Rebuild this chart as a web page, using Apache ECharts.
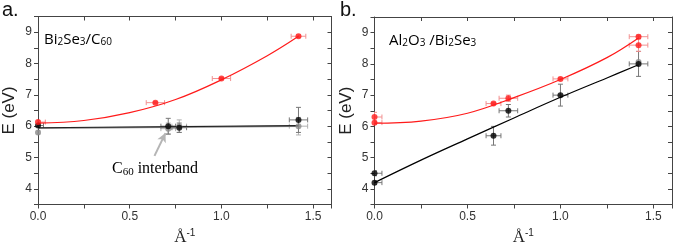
<!DOCTYPE html>
<html><head><meta charset="utf-8">
<script src="https://cdn.jsdelivr.net/npm/echarts@6/dist/echarts.min.js"></script>
<style>html,body{margin:0;padding:0;background:#fff}#c{width:675px;height:251px}</style>
</head><body><div id="c"></div>
<script>
// ---- data: [x, y, xerr, yerr] ----
const aRed   = [[0,6.13,0.04,0.05],[0.64,6.75,0.05,0.03],[1.0,7.52,0.05,0.03],[1.42,8.87,0.04,0.04]];
const aBlack = [[0,6.02,0.03,0.05],[0.71,6.0,0.04,0.25],[0.77,5.95,0.04,0.15],[1.42,6.2,0.05,0.4]];
const aGray  = [[0,5.8,0.0,0.05],[0.71,5.92,0.04,0.18],[0.77,6.0,0.04,0.2],[1.42,6.0,0.05,0.28]];
const aRedFit   = [[0,6.1],[0.25,6.18],[0.5,6.43],[0.75,6.85],[1.0,7.48],[1.25,8.25],[1.42,8.87]];
const aBlackFit = [[0,5.95],[1.42,6.02]];
const aGrayFit  = [[0,5.93],[1.42,6.0]];

const bRed   = [[0,6.3,0.04,0.15],[0,6.12,0.04,0.05],[0.64,6.73,0.04,0.03],[0.72,6.9,0.05,0.1],[1.0,7.52,0.04,0.03],[1.42,8.87,0.05,0.05],[1.42,8.6,0.05,0.2]];
const bBlack = [[0,4.5,0.04,0.08],[0,4.2,0.04,0.05],[0.64,5.7,0.04,0.3],[0.72,6.5,0.05,0.2],[1.0,7.0,0.04,0.35],[1.42,8.0,0.05,0.4]];
const bGray  = [[1.42,8.06,0.0,0.0]];
const bRedFit   = [[0,6.1],[0.25,6.17],[0.5,6.42],[0.75,6.92],[1.0,7.5],[1.25,8.2],[1.42,8.83]];
const bBlackFit = [[0,4.2],[0.25,4.92],[0.5,5.6],[0.75,6.27],[1.0,6.93],[1.25,7.55],[1.42,7.97]];

const xTicks = ['0.0','0.5','1.0','1.5'];
const yTicks = ['4','5','6','7','8','9'];

const RED='#ff1a1a', RED_ERR='#f29090', BLK='#000000', BLK_ERR='#777777', GRY='#8a8a8a';

function xAx(grid, top){
  return {type:'value', gridIndex:grid, min:0, max:1.6, interval:0.25, position: top?'top':'bottom',
    axisLine:{show:true, onZero:false, lineStyle:{color:'#444', width:1}},
    axisTick:{show:true, inside: top, length: top?4:4, lineStyle:{color:'#444'}},
    splitLine:{show:false},
    axisLabel:{show:!top, color:'#333', fontSize:12, fontFamily:'Liberation Sans', margin:6,
      formatter:v=>{const i=xTicks.indexOf(v.toFixed(1)); return (Math.abs(v*2-Math.round(v*2))<1e-6 && i>=0)?xTicks[i]:'';}},
    name: top?'':'{a|Å}{s|-1}', nameLocation:'middle', nameGap:24,
    nameTextStyle:{rich:{a:{fontFamily:'Liberation Serif', fontSize:17, color:'#222'}, s:{fontFamily:'Liberation Sans', fontSize:10, color:'#222', verticalAlign:'top', padding:[0,0,8,0]}}}
  };
}
function yAx(grid, right){
  return {type:'value', gridIndex:grid, min:3.5, max:9.5, interval:0.5, position: right?'right':'left',
    axisLine:{show:true, onZero:false, lineStyle:{color:'#444', width:1}},
    axisTick:{show:true, inside: right, length:4, lineStyle:{color:'#444'}},
    splitLine:{show:false},
    axisLabel:{show:!right, color:'#333', fontSize:12, fontFamily:'Liberation Sans', margin:6,
      formatter:v=>{const s=String(Math.round(v)); return (Math.abs(v-Math.round(v))<1e-6 && yTicks.includes(s))?s:'';}},
    name: right?'':'E (eV)', nameLocation:'middle', nameGap:20, nameRotate:90,
    nameTextStyle:{fontFamily:'Liberation Sans', fontSize:17, color:'#222'}
  };
}

function errSeries(data, xi, yi, color){
  return {type:'custom', xAxisIndex:xi, yAxisIndex:yi, data:data, clip:true, z:2, silent:true,
    renderItem:(params, api)=>{
      const x=api.value(0), y=api.value(1), ex=api.value(2), ey=api.value(3);
      const c=api.coord([x,y]), l=api.coord([x-ex,y]), r=api.coord([x+ex,y]), t=api.coord([x,y+ey]), b=api.coord([x,y-ey]);
      const st={stroke:color, lineWidth:1};
      const ch=[];
      if(ex>0){
        ch.push({type:'line', shape:{x1:l[0],y1:c[1],x2:r[0],y2:c[1]}, style:st});
        ch.push({type:'line', shape:{x1:l[0],y1:c[1]-2.5,x2:l[0],y2:c[1]+2.5}, style:st});
        ch.push({type:'line', shape:{x1:r[0],y1:c[1]-2.5,x2:r[0],y2:c[1]+2.5}, style:st});
      }
      if(ey>0){
        ch.push({type:'line', shape:{x1:c[0],y1:t[1],x2:c[0],y2:b[1]}, style:st});
        ch.push({type:'line', shape:{x1:c[0]-2.5,y1:t[1],x2:c[0]+2.5,y2:t[1]}, style:st});
        ch.push({type:'line', shape:{x1:c[0]-2.5,y1:b[1],x2:c[0]+2.5,y2:b[1]}, style:st});
      }
      return {type:'group', children:ch};
    }};
}
function pts(data, xi, yi, color, size){
  return {type:'scatter', xAxisIndex:xi, yAxisIndex:yi, data:data.map(d=>[d[0],d[1]]), symbolSize:size||6, z:4,
    itemStyle:{color:color}, clip:false, silent:true};
}
function fit(data, xi, yi, color, w){
  return {type:'line', xAxisIndex:xi, yAxisIndex:yi, data:data, smooth:0.4, showSymbol:false, symbol:'none', z:3,
    lineStyle:{color:color, width:w||1.2}, silent:true};
}

const sub = {fontFamily:'Open Sans', fontSize:10, color:'#222', verticalAlign:'bottom', padding:[6,0,0,0]};
const nrm = {fontFamily:'Open Sans', fontSize:15, color:'#222'};

const chart = echarts.init(document.getElementById('c'), null, {renderer:'canvas'});
chart.setOption({
  animation:false,
  grid:[{left:37.5, right:343.5, top:16.5, bottom:40.5},{left:374.5, right:2, top:17, bottom:39}],
  xAxis:[xAx(0,false), xAx(0,true), xAx(1,false), xAx(1,true)],
  yAxis:[yAx(0,false), yAx(0,true), yAx(1,false), yAx(1,true)],
  series:[
    fit(aGrayFit,0,0,GRY,1.5), fit(aBlackFit,0,0,'#222',1.2), fit(aRedFit,0,0,RED,1.2),
    errSeries(aGray,0,0,'#b0b0b0'), errSeries(aBlack,0,0,BLK_ERR), errSeries(aRed,0,0,RED_ERR),
    pts(aGray,0,0,GRY,6), pts(aBlack,0,0,BLK,6), pts(aRed,0,0,RED,6),
    {type:'line', xAxisIndex:0, yAxisIndex:0, data:[], silent:true,
      markLine:{silent:true, symbol:['none','arrow'], symbolSize:[7,9], label:{show:false},
        lineStyle:{color:'#b5b5b5', width:2, type:'solid'},
        data:[[{coord:[0.635,5.05]},{coord:[0.695,5.78]}]]}},
    fit(bBlackFit,2,2,BLK,1.2), fit(bRedFit,2,2,RED,1.2),
    errSeries(bBlack,2,2,BLK_ERR), errSeries(bRed,2,2,RED_ERR),
    pts(bGray,2,2,GRY,6), pts(bBlack,2,2,BLK,6), pts(bRed,2,2,RED,6)
  ],
  graphic:[
    {type:'text', left:2, top:0, style:{text:'a.', font:'20px "Liberation Sans"', fill:'#111'}},
    {type:'text', left:340, top:0, style:{text:'b.', font:'20px "Liberation Sans"', fill:'#111'}},
    {type:'text', left:44, top:32, style:{text:'{n|Bi}{s|2}{n|Se}{s|3}{n|/C}{s|60}', rich:{n:nrm, s:sub}}},
    {type:'text', left:389, top:33, style:{text:'{n|Al}{s|2}{n|O}{s|3}{n| /Bi}{s|2}{n|Se}{s|3}', rich:{n:nrm, s:sub}}},
    {type:'text', left:112, top:161, style:{text:'{n|C}{s|60}{n| interband}', rich:{
      n:{fontFamily:'Liberation Serif', fontSize:16, color:'#222'},
      s:{fontFamily:'Liberation Serif', fontSize:11, color:'#222', verticalAlign:'bottom', padding:[6,0,0,0]}}}}
  ]
});
</script></body></html>
